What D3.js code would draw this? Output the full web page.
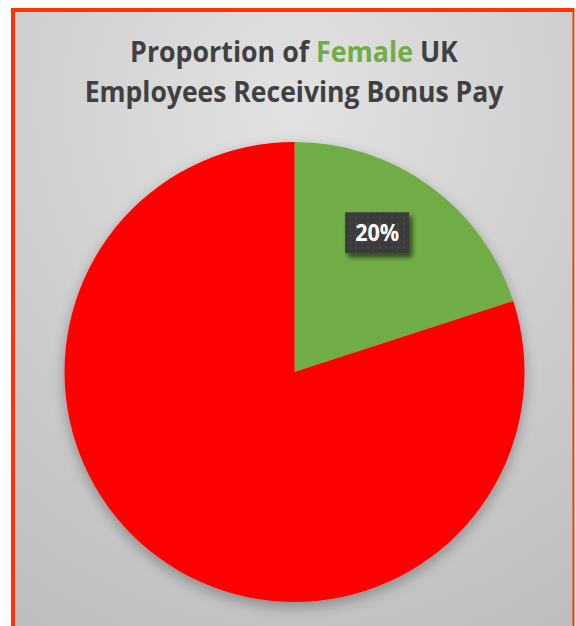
<!DOCTYPE html>
<html>
<head>
<meta charset="utf-8">
<script src="https://cdn.jsdelivr.net/npm/d3@7"></script>
<style>
  html, body { margin: 0; padding: 0; background: #fff; }
  svg { display: block; }
</style>
</head>
<body>
<script>
// data
const categories = ["Female receiving bonus", "Female not receiving bonus"];
const values = [20, 80];
const sliceColors = ["#70ad47", "#ff0000"];
const labels = ["20%", ""];
const titleParts = [["Proportion of ", "#404040"], ["Female", "#70ad47"], [" UK", "#404040"]];
const titleLine2 = "Employees Receiving Bonus Pay";

const w = 576, h = 626;

const svg = d3.select("body").append("svg")
  .attr("width", w)
  .attr("height", h);

const defs = svg.append("defs");

// background gradient
const bg = defs.append("radialGradient")
  .attr("id", "bg")
  .attr("cx", "50%").attr("cy", "15%").attr("r", "100%");
bg.append("stop").attr("offset", "0%").attr("stop-color", "#e2e2e2");
bg.append("stop").attr("offset", "100%").attr("stop-color", "#bcbcbc");

// soft shadow under the pie
const sh = defs.append("filter").attr("id", "pieShadow")
  .attr("x", "-20%").attr("y", "-20%").attr("width", "140%").attr("height", "140%");
sh.append("feGaussianBlur").attr("in", "SourceAlpha").attr("stdDeviation", 7);
sh.append("feOffset").attr("dx", 0).attr("dy", 5).attr("result", "b");
sh.append("feComponentTransfer").append("feFuncA").attr("type", "linear").attr("slope", 0.3);
const shm = sh.append("feMerge");
shm.append("feMergeNode");
shm.append("feMergeNode").attr("in", "SourceGraphic");

// shadow for the label box
const lsh = defs.append("filter").attr("id", "boxShadow")
  .attr("x", "-30%").attr("y", "-30%").attr("width", "160%").attr("height", "170%");
lsh.append("feGaussianBlur").attr("in", "SourceAlpha").attr("stdDeviation", 2.5);
lsh.append("feOffset").attr("dx", 3).attr("dy", 4);
lsh.append("feComponentTransfer").append("feFuncA").attr("type", "linear").attr("slope", 0.6);
const lm = lsh.append("feMerge");
lm.append("feMergeNode");
lm.append("feMergeNode").attr("in", "SourceGraphic");

// dotted texture for the label box
const pat = defs.append("pattern").attr("id", "dots")
  .attr("width", 6).attr("height", 6).attr("patternUnits", "userSpaceOnUse");
pat.append("rect").attr("width", 6).attr("height", 6).attr("fill", "#3a3a3a");
pat.append("circle").attr("cx", 3).attr("cy", 3).attr("r", 1.2).attr("fill", "#4a4a4a");

// chart area with border
svg.append("rect")
  .attr("x", 13).attr("y", 10)
  .attr("width", 561).attr("height", 630)
  .attr("fill", "url(#bg)");
svg.append("path")
  .attr("d", "M13,640 L13,10 L574,10")
  .attr("fill", "none")
  .attr("stroke", "#ff3300")
  .attr("stroke-width", 4);
svg.append("line")
  .attr("x1", 573.5).attr("x2", 573.5).attr("y1", 8).attr("y2", 626)
  .attr("stroke", "#ff3300").attr("stroke-width", 2);

// title, squeezed horizontally to the reference width
const title = svg.append("g")
  .attr("font-family", "'Open Sans', sans-serif")
  .attr("font-weight", "bold")
  .attr("font-size", 29)
  .attr("text-anchor", "middle");

function fitLine(y, targetW) {
  const outer = title.append("g");
  const inner = outer.append("g");
  const t = inner.append("text").attr("x", 0).attr("y", 0);
  return { outer, inner, t, y, targetW };
}

const l1 = fitLine(62, 328);
l1.t.selectAll("tspan").data(titleParts).join("tspan")
  .attr("fill", d => d[1])
  .style("white-space", "pre")
  .text(d => d[0]);

const l2 = fitLine(102, 419);
l2.t.attr("fill", "#404040").text(titleLine2);

[l1, l2].forEach(l => {
  const nat = l.t.node().getComputedTextLength();
  const sx = l.targetW / nat;
  l.outer.attr("transform", `translate(294,${l.y}) scale(${sx},1)`);
});

// pie
const cx = 294.5, cy = 372, r = 230;

const pie = d3.pie().sort(null).value(d => d);
const arc = d3.arc().innerRadius(0).outerRadius(r);
const arcs = pie(values);

const g = svg.append("g").attr("transform", `translate(${cx},${cy})`);

g.append("g").attr("filter", "url(#pieShadow)")
  .selectAll("path")
  .data(arcs)
  .join("path")
  .attr("d", arc)
  .attr("fill", (d, i) => sliceColors[i]);

// data label, placed like Excel's best fit
const labelArc = d3.arc().innerRadius(r * 0.7).outerRadius(r * 0.7);
arcs.forEach((d, i) => {
  if (!labels[i]) return;
  const c = labelArc.centroid(d);
  const lg = g.append("g").attr("transform", `translate(${c[0] - 12},${c[1] - 9})`);
  lg.append("rect")
    .attr("x", -32).attr("y", -20.5)
    .attr("width", 64).attr("height", 41)
    .attr("fill", "url(#dots)")
    .attr("filter", "url(#boxShadow)");
  lg.append("text")
    .attr("text-anchor", "middle")
    .attr("dy", "0.36em")
    .attr("fill", "#fff")
    .attr("font-family", "'Open Sans', sans-serif")
    .attr("font-weight", "bold")
    .attr("font-size", 23)
    .attr("textLength", 44)
    .attr("lengthAdjust", "spacingAndGlyphs")
    .text(labels[i]);
});
</script>
</body>
</html>
